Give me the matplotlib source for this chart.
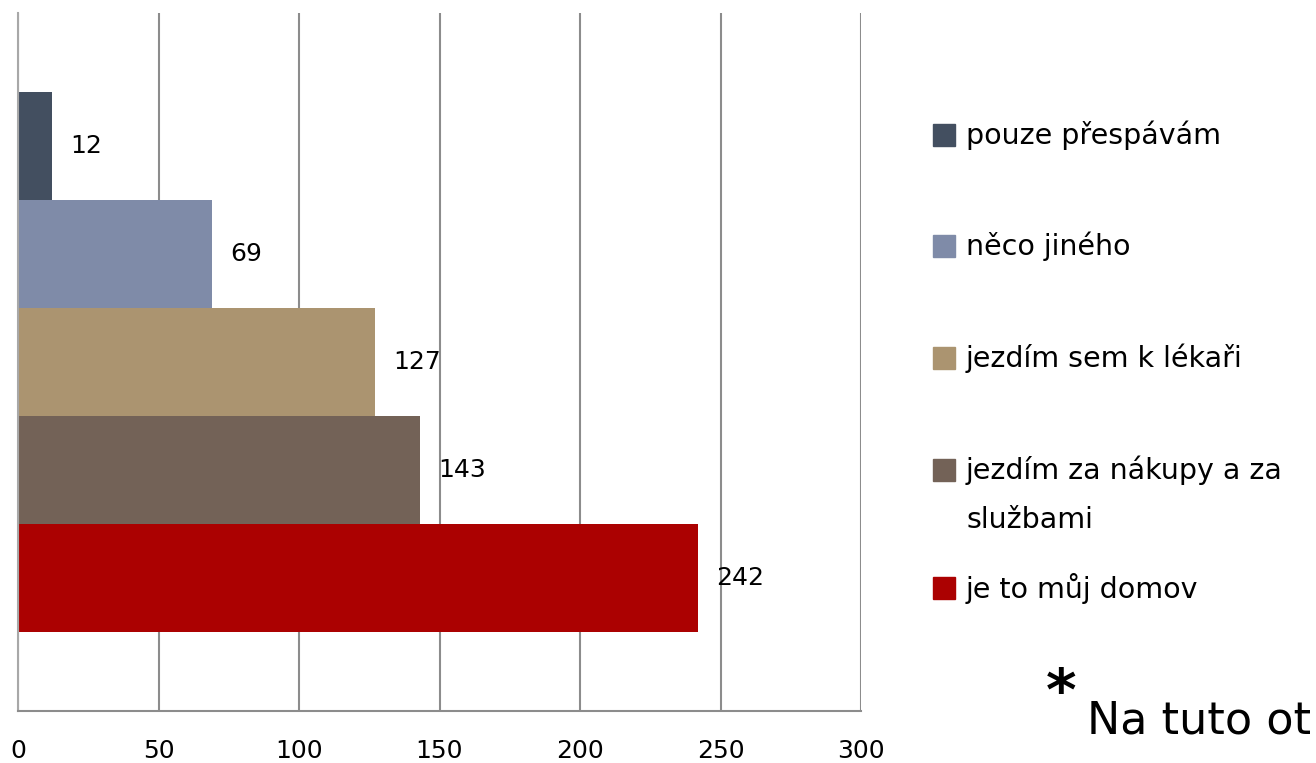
import matplotlib
matplotlib.use("Agg")
import matplotlib.pyplot as plt
from matplotlib.patches import Rectangle

# data, top bar first
categories = ["pouze přespávám", "něco jiného", "jezdím sem k lékaři",
              "jezdím za nákupy a za\nslužbami", "je to můj domov"]
values = [12, 69, 127, 143, 242]
colors = ["#434f60", "#7f8ba8", "#ab9470", "#736257", "#ab0101"]
x_ticks = [0, 50, 100, 150, 200, 250, 300]
note = "Na tuto ot"

W, H = 1316, 763
fig = plt.figure(figsize=(W / 100, H / 100), dpi=100)
ax = fig.add_axes([18 / W, 52 / H, (861 - 18) / W, (750 - 52) / H])

n = len(values)
ypos = [n - 1 - i for i in range(n)]
ax.barh(ypos, values, height=1.0, color=colors, zorder=2)

# value labels
for y, v in zip(ypos, values):
    ax.annotate(str(v), xy=(v, y), xytext=(13, 0), textcoords="offset points",
                va="center", ha="left", fontsize=18, color="black", zorder=3)

ax.set_xlim(0, 300)
ax.set_ylim(-1.23, n - 1 + 1.23)
ax.set_xticks(x_ticks)
ax.set_yticks([])
ax.tick_params(axis="x", length=0, pad=20, labelsize=18)
ax.grid(axis="x", color="#8c8c8c", linewidth=1.5, zorder=1)
for s in ["top", "right"]:
    ax.spines[s].set_visible(False)
ax.spines["left"].set_color("#a8a8a8")
ax.spines["left"].set_linewidth(1.5)
ax.spines["bottom"].set_color("#8c8c8c")
ax.spines["bottom"].set_linewidth(1.5)

# legend drawn by hand
legend_y = [135, 246, 358, 470, 588]
for lab, col, yc in zip(categories, colors, legend_y):
    fig.patches.append(Rectangle((933 / W, (H - yc - 11) / H), 22 / W, 22 / H,
                                 transform=fig.transFigure, color=col))
    lines = lab.split("\n")
    for k, line in enumerate(lines):
        fig.text(966 / W, (H - yc - 50 * k) / H, line, ha="left", va="center",
                 fontsize=20.5)

fig.text(1046 / W, (H - 710) / H, "*", ha="left", va="baseline", fontsize=42,
         fontweight="bold")
fig.text(1087 / W, (H - 734) / H, note, ha="left", va="baseline", fontsize=32)

fig.savefig("out.png", dpi=100)
